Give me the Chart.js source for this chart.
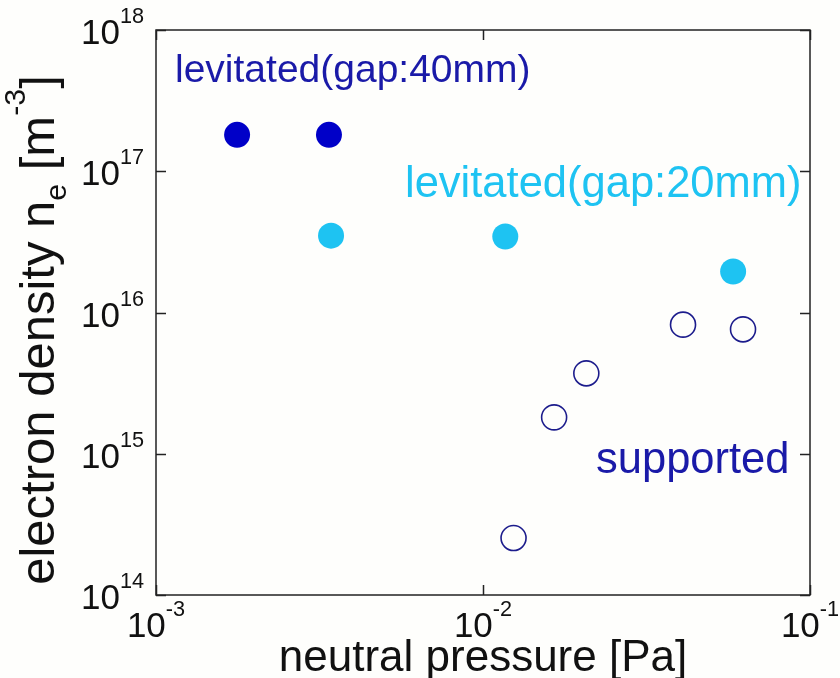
<!DOCTYPE html>
<html>
<head>
<meta charset="utf-8">
<title>electron density vs neutral pressure</title>
<script src="https://cdn.jsdelivr.net/npm/chart.js@4"></script>
<style>
  html, body { margin: 0; padding: 0; background: #fefefc; }
  #wrap { width: 840px; height: 678px; }
</style>
</head>
<body>
<div id="wrap"><canvas id="densityChart" width="840" height="678"></canvas></div>
<script>
// neutral pressure [Pa] / electron density [m^-3]
const pressureGap40 = [1.77e-3, 3.38e-3];
const densityGap40  = [1.81e17, 1.81e17];

const pressureGap20 = [3.43e-3, 1.17e-2, 5.82e-2];
const densityGap20  = [3.5e16, 3.45e16, 1.95e16];

const pressureSupported = [1.24e-2, 1.65e-2, 2.07e-2, 4.09e-2, 6.24e-2];
const densitySupported  = [2.53e14, 1.81e15, 3.71e15, 8.2e15, 7.6e15];

// decade exponents used for ticks
const xTickExps = [-3, -2, -1];
const yTickExps = [14, 15, 16, 17, 18];

const FONT = '"Liberation Sans", Arial, sans-serif';
const DARK = '#0000c8';
const CYAN = '#1ec3f2';
const NAVY = '#1c1c8c';

function toPoints(xs, ys) {
    return xs.map((x, i) => ({ x: x, y: ys[i] }));
}

// draw a run of text pieces, some raised or lowered
function drawRich(ctx, pieces, x, y, size) {
    let cx = x;
    pieces.forEach(p => {
        const small = p.sup || p.sub;
        const fs = small ? size * 0.62 : size;
        ctx.font = fs + 'px ' + FONT;
        let dy = 0;
        if (p.sup) dy = -size * 0.6;
        if (p.sub) dy = size * 0.25;
        ctx.fillText(p.t, cx, y + dy);
        cx += ctx.measureText(p.t).width;
    });
    return cx - x;
}

function richWidth(ctx, pieces, size) {
    let w = 0;
    pieces.forEach(p => {
        const fs = (p.sup || p.sub) ? size * 0.62 : size;
        ctx.font = fs + 'px ' + FONT;
        w += ctx.measureText(p.t).width;
    });
    return w;
}

const frameAndLabels = {
    id: 'frameAndLabels',
    afterDatasetsDraw(chart) {
        const ctx = chart.ctx;
        const a = chart.chartArea;
        const xs = chart.scales.x, ys = chart.scales.y;
        ctx.save();

        // box
        ctx.strokeStyle = '#222';
        ctx.lineWidth = 1.5;
        ctx.strokeRect(a.left, a.top, a.right - a.left, a.bottom - a.top);

        // inward ticks on all four sides
        const tl = 10;
        ctx.beginPath();
        yTickExps.forEach(e => {
            const py = Math.round(ys.getPixelForValue(Math.pow(10, e))) + 0.5;
            ctx.moveTo(a.left, py); ctx.lineTo(a.left + tl, py);
            ctx.moveTo(a.right, py); ctx.lineTo(a.right - tl, py);
        });
        xTickExps.forEach(e => {
            const px = Math.round(xs.getPixelForValue(Math.pow(10, e))) + 0.5;
            ctx.moveTo(px, a.bottom); ctx.lineTo(px, a.bottom - tl);
            ctx.moveTo(px, a.top); ctx.lineTo(px, a.top + tl);
        });
        ctx.stroke();

        // tick labels
        ctx.fillStyle = '#111';
        ctx.textBaseline = 'alphabetic';
        ctx.textAlign = 'left';
        const ts = 35;
        yTickExps.forEach(e => {
            const py = ys.getPixelForValue(Math.pow(10, e));
            const pieces = [{ t: '10' }, { t: String(e), sup: true }];
            const w = richWidth(ctx, pieces, ts);
            drawRich(ctx, pieces, a.left - 12 - w, py + 14, ts);
        });
        xTickExps.forEach(e => {
            const px = xs.getPixelForValue(Math.pow(10, e));
            const pieces = [{ t: '10' }, { t: '-' + String(-e), sup: true }];
            const w = richWidth(ctx, pieces, ts);
            drawRich(ctx, pieces, px - w / 2, a.bottom + 42, ts);
        });

        // axis titles
        ctx.font = '44px ' + FONT;
        ctx.textAlign = 'center';
        ctx.fillText('neutral pressure [Pa]', (a.left + a.right) / 2, 671);

        ctx.textAlign = 'left';
        const tsz = 49;
        const yTitle = [{ t: 'electron density n' }, { t: 'e', sub: true }, { t: ' [m' }, { t: '-3', sup: true }, { t: ']' }];
        const yw = richWidth(ctx, yTitle, tsz);
        ctx.translate(54, 330);
        ctx.rotate(-Math.PI / 2);
        drawRich(ctx, yTitle, -yw / 2, 0, tsz);
        ctx.restore();

        // series captions
        ctx.save();
        ctx.textAlign = 'left';
        ctx.textBaseline = 'alphabetic';
        ctx.font = '39px ' + FONT;
        ctx.fillStyle = '#1a1aa8';
        ctx.fillText('levitated(gap:40mm)', 175, 82);
        ctx.font = '43.5px ' + FONT;
        ctx.fillStyle = CYAN;
        ctx.fillText('levitated(gap:20mm)', 405, 197);
        ctx.font = '43.5px ' + FONT;
        ctx.fillStyle = '#1a1aa8';
        ctx.fillText('supported', 596, 473);
        ctx.restore();
    }
};

const chart = new Chart(document.getElementById('densityChart').getContext('2d'), {
    type: 'scatter',
    data: {
        datasets: [
            {
                label: 'levitated(gap:40mm)',
                data: toPoints(pressureGap40, densityGap40),
                backgroundColor: DARK,
                borderColor: DARK,
                borderWidth: 0,
                pointRadius: 13
            },
            {
                label: 'levitated(gap:20mm)',
                data: toPoints(pressureGap20, densityGap20),
                backgroundColor: CYAN,
                borderColor: CYAN,
                borderWidth: 0,
                pointRadius: 13
            },
            {
                label: 'supported',
                data: toPoints(pressureSupported, densitySupported),
                backgroundColor: 'rgba(0,0,0,0)',
                borderColor: NAVY,
                borderWidth: 1.6,
                pointRadius: 12.5
            }
        ]
    },
    options: {
        responsive: false,
        animation: false,
        layout: { padding: { top: 30, right: 30, left: 0, bottom: 0 } },
        scales: {
            x: {
                type: 'logarithmic',
                min: 1e-3,
                max: 1e-1,
                grid: { display: false },
                border: { display: false },
                ticks: { display: false },
                afterFit: s => { s.height = 83; }
            },
            y: {
                type: 'logarithmic',
                min: 1e14,
                max: 1e18,
                grid: { display: false },
                border: { display: false },
                ticks: { display: false },
                afterFit: s => { s.width = 156; }
            }
        },
        plugins: {
            legend: { display: false },
            tooltip: { enabled: false }
        }
    },
    plugins: [frameAndLabels]
});
</script>
</body>
</html>
